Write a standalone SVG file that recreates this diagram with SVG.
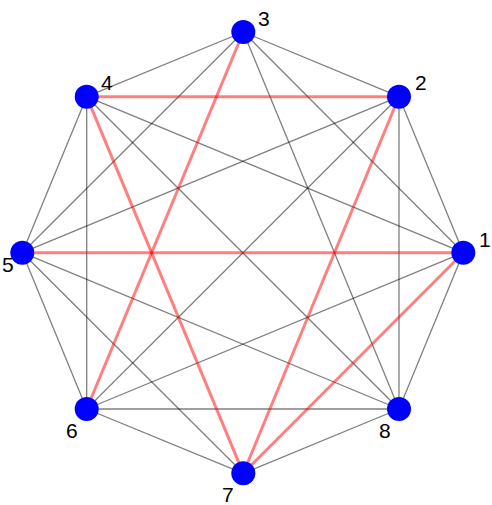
<svg xmlns="http://www.w3.org/2000/svg" width="492" height="505" viewBox="0 0 492 505">
<style>
.g{stroke:#000;stroke-opacity:0.5;stroke-width:1.3;fill:none}
.r{stroke:#f00;stroke-opacity:0.5;stroke-width:3;fill:none}
.n{fill:#0000ff}
.t{font-family:"Liberation Sans",Arial,sans-serif;font-size:21px;fill:#000}
</style>
<rect width="492" height="505" fill="#fff"/>
<g id="connectors">
<line class="g" x1="463.3" y1="252.7" x2="399" y2="96.7"/>
<line class="g" x1="463.3" y1="252.7" x2="243.3" y2="32"/>
<line class="g" x1="463.3" y1="252.7" x2="86.7" y2="96.7"/>
<line class="g" x1="463.3" y1="252.7" x2="86.7" y2="409"/>
<line class="g" x1="463.3" y1="252.7" x2="399" y2="409"/>
<line class="g" x1="399" y1="96.7" x2="243.3" y2="32"/>
<line class="g" x1="399" y1="96.7" x2="22.3" y2="252.7"/>
<line class="g" x1="399" y1="96.7" x2="86.7" y2="409"/>
<line class="g" x1="399" y1="96.7" x2="399" y2="409"/>
<line class="g" x1="243.3" y1="32" x2="86.7" y2="96.7"/>
<line class="g" x1="243.3" y1="32" x2="22.3" y2="252.7"/>
<line class="g" x1="243.3" y1="32" x2="399" y2="409"/>
<line class="g" x1="86.7" y1="96.7" x2="22.3" y2="252.7"/>
<line class="g" x1="86.7" y1="96.7" x2="86.7" y2="409"/>
<line class="g" x1="86.7" y1="96.7" x2="399" y2="409"/>
<line class="g" x1="22.3" y1="252.7" x2="86.7" y2="409"/>
<line class="g" x1="22.3" y1="252.7" x2="243.3" y2="473.3"/>
<line class="g" x1="22.3" y1="252.7" x2="399" y2="409"/>
<line class="g" x1="86.7" y1="409" x2="243.3" y2="473.3"/>
<line class="g" x1="86.7" y1="409" x2="399" y2="409"/>
<line class="g" x1="243.3" y1="473.3" x2="399" y2="409"/>
<line class="r" x1="399" y1="96.7" x2="86.7" y2="96.7"/>
<line class="r" x1="463.3" y1="252.7" x2="22.3" y2="252.7"/>
<line class="r" x1="86.7" y1="96.7" x2="243.3" y2="473.3"/>
<line class="r" x1="243.3" y1="32" x2="86.7" y2="409"/>
<line class="r" x1="399" y1="96.7" x2="243.3" y2="473.3"/>
<line class="r" x1="463.3" y1="252.7" x2="243.3" y2="473.3"/>
</g>
<g id="node1"><circle class="n" cx="463.3" cy="252.7" r="12"/><text class="t" x="479" y="247">1</text></g>
<g id="node2"><circle class="n" cx="399" cy="96.7" r="12"/><text class="t" x="415" y="90">2</text></g>
<g id="node3"><circle class="n" cx="243.3" cy="32" r="12"/><text class="t" x="258" y="26">3</text></g>
<g id="node4"><circle class="n" cx="86.7" cy="96.7" r="12"/><text class="t" x="101" y="90">4</text></g>
<g id="node5"><circle class="n" cx="22.3" cy="252.7" r="12"/><text class="t" x="2" y="272">5</text></g>
<g id="node6"><circle class="n" cx="86.7" cy="409" r="12"/><text class="t" x="66" y="438">6</text></g>
<g id="node7"><circle class="n" cx="243.3" cy="473.3" r="12"/><text class="t" x="222" y="502">7</text></g>
<g id="node8"><circle class="n" cx="399" cy="409" r="12"/><text class="t" x="379" y="438">8</text></g>
</svg>
